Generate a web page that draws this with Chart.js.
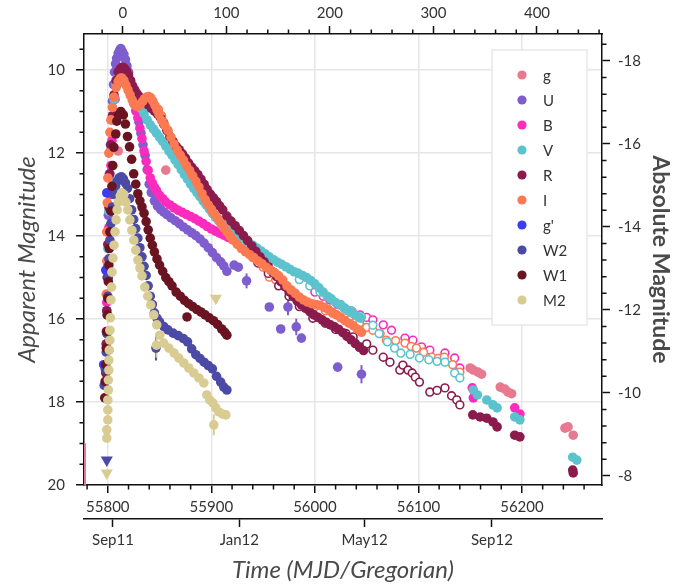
<!DOCTYPE html>
<html>
<head>
<meta charset="utf-8">
<script src="https://cdn.jsdelivr.net/npm/chart.js@4.4.0/dist/chart.umd.min.js"></script>
<style>
  html, body { margin: 0; padding: 0; background: #fff; }
  canvas { display: block; }
</style>
</head>
<body>
<canvas id="lc" width="680" height="586"></canvas>
<script>
// ---- light curve data (MJD, apparent magnitude) ----
const bandNames  = ['g', 'U', 'B', 'V', 'R', 'I', "g'", 'W2', 'W1', 'M2'];
const bandColors = ['#e8798e', '#7e5ecf', '#fb2cbd', '#5cc3ce', '#8a1b4c', '#fb7a52', '#3c3cf0', '#4b4aa6', '#6a1422', '#d9cc93'];

const gT   = [55778, 55810, 55856, 56150, 56153, 56157.5, 56161, 56179, 56183.5, 56186.5, 56190, 56241.5, 56244.5, 56249.5];
const gMag = [21.0, 11.95, 12.41, 17.18, 17.23, 17.28, 17.33, 17.64, 17.69, 17.76, 17.8, 18.63, 18.6, 18.8];
const gErr = [2.0, 0, 0, 0, 0, 0, 0, 0, 0, 0, 0, 0, 0, 0];

const uT   = [55799.5, 55800.5, 55801.5, 55802.5, 55803.5, 55804.5, 55805.5, 55806.5, 55807.5, 55808.5, 55810, 55811.5, 55812.6, 55814, 55815.5, 55817, 55818.5, 55820, 55822, 55824, 55826, 55828, 55830, 55832, 55834, 55836, 55838, 55840, 55842, 55845, 55848, 55851, 55854, 55857, 55861, 55865, 55869, 55873, 55877, 55881, 55885, 55889, 55893, 55897, 55901, 55905, 55909, 55912, 55915];
const uMag = [14.6, 13.5, 12.5, 11.8, 11.2, 10.75, 10.35, 10.05, 9.85, 9.72, 9.6, 9.52, 9.48, 9.55, 9.62, 9.75, 9.9, 10.05, 10.28, 10.5, 10.75, 11.0, 11.25, 11.52, 11.8, 12.05, 12.4, 12.75, 12.95, 13.15, 13.28, 13.36, 13.42, 13.48, 13.56, 13.63, 13.7, 13.78, 13.85, 13.92, 13.99, 14.07, 14.17, 14.28, 14.4, 14.52, 14.62, 14.72, 14.85];
const uLateT   = [55922, 55926, 55934, 55956, 55967, 55974, 55982, 55987, 56022, 56045];
const uLateMag = [14.7, 14.75, 15.08, 15.71, 16.24, 15.71, 16.19, 16.46, 17.16, 17.33];
const uLateErr = [0, 0, 0.18, 0, 0, 0.2, 0.2, 0, 0, 0.22];

const bT   = [55798.5, 55799, 55800, 55801, 55802, 55803, 55804, 55805.5, 55807, 55809, 55811, 55813, 55815, 55817, 55819, 55821, 55823, 55825, 55827, 55829, 55831, 55833, 55835, 55837, 55839, 55841, 55843, 55845, 55847, 55850, 55853, 55856, 55860, 55864, 55868, 55872, 55876, 55880, 55884, 55888, 55892, 55896, 55900, 55904, 55908, 55912, 55916, 55920, 55924];
const bMag = [16.3, 15.6, 14.7, 13.8, 13.0, 12.3, 11.7, 11.1, 10.7, 10.35, 10.15, 10.03, 9.98, 10.05, 10.2, 10.4, 10.6, 10.8, 10.98, 11.15, 11.4, 11.65, 11.95, 12.2, 12.42, 12.6, 12.72, 12.82, 12.9, 13.02, 13.1, 13.18, 13.25, 13.32, 13.38, 13.43, 13.48, 13.53, 13.58, 13.64, 13.7, 13.77, 13.83, 13.88, 13.93, 13.98, 14.03, 14.08, 14.13];
const bLateT   = [56152, 56153, 56193, 56198];
const bLateMag = [17.66, 17.9, 18.14, 18.29];

const vT   = [55798.5, 55799, 55799.5, 55800, 55801, 55802, 55803, 55804.5, 55806, 55808, 55810, 55812, 55814, 55816, 55818, 55820, 55823, 55826, 55829, 55832, 55835, 55838, 55841, 55844, 55847, 55850, 55853, 55856, 55859, 55862, 55865, 55868, 55871, 55874, 55877, 55880, 55883, 55886, 55889, 55892, 55895, 55898, 55901, 55904, 55907, 55910, 55913, 55916, 55920, 55924, 55928, 55932, 55936, 55940, 55944, 55948, 55952, 55956, 55960, 55964, 55968, 55972, 55976, 55980, 55984, 55988, 55992, 55996, 56000, 56004, 56008, 56012, 56016, 56020, 56024, 56028, 56032, 56036, 56040, 56044];
const vMag = [16.6, 15.8, 15.0, 14.3, 13.4, 12.6, 11.9, 11.2, 10.7, 10.35, 10.15, 10.05, 10.0, 10.02, 10.1, 10.2, 10.4, 10.6, 10.8, 10.93, 11.05, 11.2, 11.32, 11.42, 11.52, 11.62, 11.72, 11.83, 11.95, 12.05, 12.17, 12.28, 12.4, 12.52, 12.63, 12.75, 12.85, 12.95, 13.05, 13.15, 13.25, 13.35, 13.45, 13.55, 13.63, 13.7, 13.76, 13.82, 13.9, 13.97, 14.02, 14.08, 14.15, 14.22, 14.29, 14.36, 14.43, 14.5, 14.57, 14.63, 14.68, 14.74, 14.8, 14.86, 14.9, 14.95, 15.0, 15.07, 15.15, 15.25, 15.35, 15.45, 15.52, 15.6, 15.66, 15.73, 15.8, 15.85, 15.92, 15.98];
const vLateT   = [56153, 56157, 56166, 56172, 56176, 56193, 56198, 56249, 56253];
const vLateMag = [17.71, 17.83, 17.95, 18.07, 18.14, 18.36, 18.43, 19.33, 19.4];

const rT   = [55798, 55798.5, 55799, 55799.5, 55800, 55801, 55802, 55803, 55804.5, 55806, 55808, 55810, 55812, 55814, 55816, 55818, 55820, 55822, 55824, 55826, 55828, 55830, 55833, 55836, 55839, 55842, 55845, 55848, 55851, 55854, 55857, 55860, 55863, 55866, 55869, 55872, 55875, 55878, 55881, 55884, 55887, 55890, 55893, 55896, 55899, 55902, 55905, 55908, 55911, 55915, 55919, 55923, 55927, 55931, 55935, 55939, 55943, 55947, 55951, 55955, 55959, 55963, 55967, 55971, 55975, 55979, 55983, 55987, 55991, 55995, 55999, 56003, 56007, 56011, 56015, 56019, 56023, 56027, 56031, 56035, 56039, 56043, 56047];
const rMag = [17.3, 16.6, 15.8, 15.0, 14.2, 13.3, 12.5, 11.8, 11.1, 10.6, 10.25, 10.05, 9.97, 9.93, 9.95, 10.02, 10.12, 10.25, 10.38, 10.48, 10.56, 10.63, 10.7, 10.76, 10.84, 10.92, 10.99, 11.06, 11.15, 11.3, 11.45, 11.6, 11.72, 11.83, 11.92, 12.02, 12.12, 12.24, 12.34, 12.43, 12.52, 12.63, 12.75, 12.88, 12.99, 13.08, 13.17, 13.27, 13.37, 13.52, 13.64, 13.75, 13.87, 13.99, 14.11, 14.24, 14.37, 14.5, 14.62, 14.74, 14.86, 14.98, 15.1, 15.22, 15.34, 15.46, 15.57, 15.66, 15.74, 15.82, 15.9, 15.96, 16.02, 16.08, 16.14, 16.19, 16.25, 16.33, 16.42, 16.5, 16.59, 16.68, 16.76];
const rLateT   = [56152.5, 56159.5, 56166, 56172, 56176, 56193, 56198, 56249, 56249.5];
const rLateMag = [18.31, 18.36, 18.39, 18.48, 18.6, 18.8, 18.84, 19.64, 19.71];

const iT   = [55798.5, 55799, 55799, 55799.5, 55800, 55801, 55802, 55803, 55804.5, 55806, 55808, 55810, 55812, 55813.5, 55815.5, 55817.5, 55819.5, 55821.5, 55823.5, 55825.5, 55827.5, 55829.5, 55831.5, 55833.5, 55835.5, 55837.5, 55839.5, 55841.5, 55843.5, 55845.5, 55847.5, 55849.5, 55852, 55855, 55858, 55861, 55864, 55867, 55870, 55873, 55876, 55879, 55882, 55885, 55888, 55891, 55894, 55897, 55900, 55903, 55906, 55909, 55912, 55915, 55918, 55921, 55925, 55929, 55933, 55937, 55941, 55945, 55949, 55953, 55957, 55961, 55965, 55969, 55973, 55977, 55981, 55985, 55989, 55993, 55997, 56001, 56005, 56009, 56013, 56017, 56021, 56025, 56029, 56033, 56037, 56041, 56045];
const iMag = [15.4, 14.6, 13.9, 13.2, 12.6, 12.0, 11.5, 11.2, 10.9, 10.65, 10.42, 10.27, 10.2, 10.19, 10.25, 10.36, 10.48, 10.6, 10.72, 10.82, 10.87, 10.87, 10.82, 10.76, 10.69, 10.65, 10.64, 10.67, 10.75, 10.85, 10.96, 11.07, 11.22, 11.33, 11.45, 11.62, 11.78, 11.93, 12.05, 12.17, 12.3, 12.42, 12.55, 12.68, 12.82, 12.98, 13.12, 13.25, 13.36, 13.47, 13.57, 13.68, 13.8, 13.9, 14.0, 14.1, 14.2, 14.3, 14.38, 14.45, 14.52, 14.6, 14.67, 14.75, 14.82, 14.88, 14.96, 15.06, 15.2, 15.3, 15.38, 15.47, 15.54, 15.59, 15.63, 15.65, 15.67, 15.72, 15.77, 15.84, 15.9, 15.97, 16.04, 16.1, 16.16, 16.24, 16.32];

const gpT   = [55796, 55798, 55799];
const gpMag = [17.1, 14.82, 12.96];

const w2T   = [55796.5, 55797.5, 55798.5, 55799, 55799.5, 55800, 55800.5, 55801, 55802, 55803, 55804.5, 55806, 55807.5, 55809, 55811, 55813, 55815, 55817, 55819, 55821, 55823, 55825, 55827, 55829, 55831, 55833, 55835, 55837, 55839, 55841, 55843, 55845, 55847.5, 55850, 55854, 55858, 55863, 55868, 55873, 55877, 55881, 55885, 55889, 55893, 55897, 55901, 55905, 55909, 55912, 55915];
const w2Mag = [17.6, 17.2, 16.8, 16.35, 15.9, 15.45, 15.0, 14.55, 14.1, 13.7, 13.3, 13.0, 12.8, 12.68, 12.6, 12.57, 12.62, 12.72, 12.85, 13.1, 13.37, 13.6, 13.82, 14.05, 14.28, 14.5, 14.73, 14.95, 15.2, 15.45, 15.65, 15.85, 15.98, 16.07, 16.18, 16.26, 16.34, 16.4, 16.47, 16.55, 16.72, 16.86, 16.95, 17.04, 17.12, 17.2, 17.38, 17.52, 17.64, 17.71];
const w2OddT   = [55846.5];
const w2OddMag = [16.7];
const w2OddErr = [0.3];

const w1T   = [55797, 55797.5, 55798, 55798.5, 55799, 55799.5, 55800, 55800.5, 55801, 55801.5, 55802, 55803, 55804, 55804.8, 55805.8, 55807.7, 55808.7, 55810.5, 55812.6, 55815, 55817, 55819, 55821, 55823, 55825, 55827, 55829, 55831, 55833, 55835, 55837, 55839, 55841, 55843, 55845, 55847.5, 55850, 55853, 55856, 55859, 55862, 55866, 55870, 55874, 55878, 55882, 55886, 55890, 55894, 55898, 55902, 55906, 55910, 55913, 55915, 55876.5];
const w1Mag = [17.9, 17.5, 17.1, 16.7, 16.3, 15.9, 15.5, 15.1, 14.7, 14.3, 13.9, 13.4, 12.8, 12.3, 11.86, 11.54, 11.23, 11.08, 11.0, 11.08, 11.3, 11.6, 11.85, 12.15, 12.5, 12.75, 12.98, 13.15, 13.3, 13.45, 13.65, 13.85, 14.05, 14.22, 14.38, 14.55, 14.7, 14.85, 15.0, 15.1, 15.2, 15.35, 15.45, 15.55, 15.63, 15.7, 15.77, 15.83, 15.9, 15.97, 16.04, 16.13, 16.24, 16.32, 16.39, 15.95];

const m2T   = [55799, 55799, 55800, 55800, 55800, 55800.5, 55800.5, 55801, 55801, 55801.5, 55802, 55802, 55802.5, 55803, 55803.5, 55804, 55805, 55806, 55807, 55808, 55809, 55810, 55812, 55813.5, 55815.5, 55817.4, 55819.3, 55821.3, 55823.2, 55825.1, 55827, 55829, 55831, 55833, 55835.7, 55838.6, 55841.5, 55844.4, 55847.3, 55850.2, 55854, 55859, 55864, 55868.6, 55873.4, 55878.2, 55883, 55888, 55892.7, 55895.6, 55898.5, 55901.4, 55904.3, 55907.2, 55911, 55914];
const m2Mag = [18.87, 18.67, 18.43, 18.19, 17.95, 17.71, 17.47, 17.23, 16.99, 16.75, 16.51, 16.27, 15.97, 15.54, 15.23, 14.87, 14.53, 14.22, 13.9, 13.61, 13.37, 13.18, 13.03, 12.96, 13.0, 13.18, 13.37, 13.61, 13.86, 14.1, 14.34, 14.58, 14.77, 14.96, 15.23, 15.45, 15.66, 15.9, 16.14, 16.39, 16.58, 16.7, 16.82, 16.94, 17.06, 17.18, 17.3, 17.42, 17.54, 17.83, 17.95, 18.02, 18.14, 18.24, 18.29, 18.31];
const m2OddT   = [55902.4, 55847];
const m2OddMag = [18.55, 16.63];
const m2OddErr = [0.25, 0.3];

// upper limits (triangles)
const ulW2T = [55799];
const ulW2Mag = [19.4];
const ulM2T = [55799, 55904.3];
const ulM2Mag = [19.71, 15.5];

// second photometry source (open circles)
const openIT   = [55836, 55840, 55844, 55849, 55852, 55854, 55858, 55862, 55866, 55870, 55874, 55878, 55884, 55890, 55896, 55902, 55908, 55914, 55920, 55930, 55940, 55950, 55956, 55962, 55970, 55980, 55992, 56000, 56010, 56017, 56025, 56033, 56043, 56050, 56056, 56063, 56069, 56078, 56087, 56093, 56098, 56105, 56113, 56119, 56125, 56133, 56140];
const openIMag = [10.72, 10.68, 10.82, 10.95, 11.1, 11.25, 11.48, 11.68, 11.9, 12.08, 12.25, 12.42, 12.65, 12.95, 13.2, 13.45, 13.65, 13.85, 14.05, 14.3, 14.52, 14.75, 14.99, 15.05, 15.2, 15.38, 15.61, 15.7, 15.8, 15.86, 15.95, 16.02, 16.1, 16.2, 16.27, 16.35, 16.51, 16.52, 16.58, 16.66, 16.7, 16.8, 16.92, 16.95, 16.92, 17.1, 17.28];
const openRT   = [55945, 55955, 55965, 55975, 55985, 55998, 56010, 56020, 56030, 56037, 56043.5, 56050, 56056, 56066, 56072.5, 56082, 56085, 56090, 56094, 56097, 56101, 56111, 56118, 56125.6, 56132, 56137, 56140];
const openRMag = [14.65, 14.9, 15.2, 15.45, 15.7, 15.98, 16.1, 16.25, 16.35, 16.43, 16.67, 16.6, 16.75, 16.92, 17.04, 17.23, 17.11, 17.23, 17.3, 17.4, 17.52, 17.76, 17.72, 17.66, 17.85, 17.95, 18.07];
const openVT   = [55985, 55995, 56005, 56015, 56025, 56035, 56045, 56056, 56062, 56070, 56077, 56083, 56092, 56101, 56110, 56118, 56125.6, 56135, 56140];
const openVMag = [15.05, 15.2, 15.35, 15.5, 15.65, 15.8, 15.95, 16.15, 16.35, 16.55, 16.7, 16.82, 16.85, 16.94, 16.98, 17.02, 17.04, 17.3, 17.42];
const openBT   = [56000, 56008, 56014.5, 56022, 56029, 56036, 56043.5, 56050, 56056, 56066, 56074, 56087, 56094.7, 56103, 56111, 56125.6, 56135, 56140];
const openBMag = [15.35, 15.45, 15.54, 15.65, 15.74, 15.82, 15.9, 15.96, 16.02, 16.14, 16.27, 16.46, 16.51, 16.67, 16.75, 16.82, 16.94, 17.18];

// axes
const mjdTicks   = [55800, 55900, 56000, 56100, 56200];
const dayTicks   = [0, 100, 200, 300, 400];
const dateMjd    = [55805, 55927, 56048, 56171];
const dateLabels = ['Sep11', 'Jan12', 'May12', 'Sep12'];
const peakMjd = 55814.5;   // top axis: days from maximum
const distMod = 27.78;     // apparent -> absolute offset
const xMin = 55777, xMax = 56277.3;
const magTop = 9.13, magBottom = 20;

const toPts = (t, m) => t.map((v, i) => ({ x: v, y: m[i] }));
const zeros = a => a.map(() => 0);

const filledSets = [
  { t: gT, m: gMag, err: gErr },
  { t: uT.concat(uLateT), m: uMag.concat(uLateMag), err: zeros(uT).concat(uLateErr) },
  { t: bT.concat(bLateT), m: bMag.concat(bLateMag) },
  { t: vT.concat(vLateT), m: vMag.concat(vLateMag) },
  { t: rT.concat(rLateT), m: rMag.concat(rLateMag) },
  { t: iT, m: iMag },
  { t: gpT, m: gpMag },
  { t: w2T.concat(w2OddT), m: w2Mag.concat(w2OddMag), err: zeros(w2T).concat(w2OddErr) },
  { t: w1T, m: w1Mag },
  { t: m2T.concat(m2OddT), m: m2Mag.concat(m2OddMag), err: zeros(m2T).concat(m2OddErr) }
];

const datasets = filledSets.map((s, i) => ({
  label: bandNames[i],
  data: toPts(s.t, s.m),
  errors: s.err,
  backgroundColor: bandColors[i],
  pointRadius: 4.8,
  pointBorderWidth: 0,
  order: 20 - i
}));

// open circles sit underneath the filled bands
function openSet(t, m, color) {
  return {
    data: toPts(t, m), pointRadius: 3.9, pointBorderWidth: 1.6,
    pointBackgroundColor: '#fff', pointBorderColor: color, order: 30
  };
}
datasets.push(openSet(openRT, openRMag, bandColors[4]));
datasets.push(openSet(openVT, openVMag, bandColors[3]));
datasets.push(openSet(openIT, openIMag, bandColors[5]));
datasets.push(openSet(openBT, openBMag, bandColors[2]));

datasets.push({ data: toPts(ulW2T, ulW2Mag), pointStyle: 'triangle', rotation: 180, pointRadius: 7, backgroundColor: bandColors[7], pointBorderWidth: 0, order: 0 });
datasets.push({ data: toPts(ulM2T, ulM2Mag), pointStyle: 'triangle', rotation: 180, pointRadius: 7, backgroundColor: bandColors[9], pointBorderWidth: 0, order: 0 });

// vertical error bars, drawn under the markers
const errorBars = {
  id: 'errorBars',
  beforeDatasetsDraw(chart) {
    const { ctx, chartArea: a, scales: { x, y } } = chart;
    ctx.save();
    ctx.beginPath();
    ctx.rect(a.left, a.top, a.right - a.left, a.bottom - a.top);
    ctx.clip();
    ctx.lineWidth = 2;
    chart.data.datasets.forEach(ds => {
      if (!ds.errors) return;
      ctx.strokeStyle = ds.backgroundColor;
      ds.data.forEach((p, i) => {
        const e = ds.errors[i];
        if (!e) return;
        const px = x.getPixelForValue(p.x);
        ctx.beginPath();
        ctx.moveTo(px, y.getPixelForValue(p.y - e));
        ctx.lineTo(px, y.getPixelForValue(p.y + e));
        ctx.stroke();
      });
    });
    ctx.restore();
  }
};

// minor tick marks on the four frame axes
const minorTicks = {
  id: 'minorTicks',
  afterDraw(chart) {
    const { ctx, chartArea: a, scales } = chart;
    ctx.save();
    ctx.strokeStyle = '#111';
    ctx.lineWidth = 1.5;
    ctx.beginPath();
    for (let v = 55780; v < xMax; v += 20) {
      if (v % 100 === 0) continue;
      const px = scales.x.getPixelForValue(v);
      ctx.moveTo(px, a.bottom); ctx.lineTo(px, a.bottom + 4.5);
    }
    for (let k = -1; k * 20 < xMax - peakMjd; k++) {
      if (k % 5 === 0) continue;
      const px = scales.xTop.getPixelForValue(k * 20);
      ctx.moveTo(px, a.top); ctx.lineTo(px, a.top - 4.5);
    }
    for (let k = 19; k < 40; k++) {
      if (k % 4 === 0) continue;
      const py = scales.y.getPixelForValue(k * 0.5);
      ctx.moveTo(a.left, py); ctx.lineTo(a.left - 4.5, py);
    }
    for (let k = -46; k <= -20; k++) {
      if (k % 5 === 0) continue;
      const py = scales.yAbs.getPixelForValue(k * 0.4);
      ctx.moveTo(a.right, py); ctx.lineTo(a.right + 4.5, py);
    }
    ctx.stroke();
    ctx.restore();
  }
};

// legend box inside the plot, upper right
const bandLegend = {
  id: 'bandLegend',
  afterDraw(chart) {
    const { ctx, chartArea: a } = chart;
    const left = a.right - 110, top = a.top + 16, w = 95, h = 275;
    ctx.save();
    ctx.fillStyle = '#fff';
    ctx.fillRect(left, top, w, h);
    ctx.strokeStyle = '#e8e8e8';
    ctx.lineWidth = 1.5;
    ctx.strokeRect(left, top, w, h);
    ctx.font = '15px Lato';
    ctx.textBaseline = 'middle';
    bandNames.forEach((name, i) => {
      const cy = top + 25 + i * 25;
      ctx.fillStyle = bandColors[i];
      ctx.beginPath();
      ctx.arc(left + 30, cy, 4.6, 0, Math.PI * 2);
      ctx.fill();
      ctx.fillStyle = '#333';
      ctx.fillText(name, left + 51, cy + 1);
    });
    ctx.restore();
  }
};

const tickFont = { family: 'Lato', size: 15 };
const tickColor = '#333';
const frame = { color: '#111', width: 1.5 };
const titleFont = { family: 'Lato', size: 24, style: 'italic' };

new Chart(document.getElementById('lc'), {
  type: 'scatter',
  data: { datasets },
  options: {
    responsive: false,
    animation: false,
    events: [],
    layout: { padding: 0 },
    plugins: { legend: { display: false }, tooltip: { enabled: false } },
    scales: {
      x: {
        type: 'linear', position: 'bottom', weight: 0, min: xMin, max: xMax,
        afterFit: s => { s.height = 34; s.paddingLeft = 0; s.paddingRight = 0; },
        afterBuildTicks: s => { s.ticks = mjdTicks.map(v => ({ value: v })); },
        ticks: { maxRotation: 0, autoSkip: false, padding: 5, color: tickColor, font: tickFont, callback: v => String(v) },
        grid: { color: '#e6e6e6', lineWidth: 1.5, tickColor: '#111', tickLength: 8, tickWidth: 1.5 },
        border: frame
      },
      xDate: {
        type: 'linear', position: 'bottom', weight: 1, min: xMin, max: xMax,
        afterFit: s => { s.height = 67; s.paddingLeft = 0; s.paddingRight = 0; },
        afterBuildTicks: s => { s.ticks = dateMjd.map(v => ({ value: v })); },
        ticks: { maxRotation: 0, autoSkip: false, padding: 4, color: tickColor, font: tickFont, callback: (v, i) => dateLabels[i] },
        grid: { drawOnChartArea: false, tickColor: '#111', tickLength: 8, tickWidth: 1.5 },
        border: frame,
        title: { display: true, text: 'Time (MJD/Gregorian)', color: '#4a4a4a', font: titleFont, padding: { top: 0, bottom: 1 } }
      },
      xTop: {
        type: 'linear', position: 'top', min: xMin - peakMjd, max: xMax - peakMjd,
        afterFit: s => { s.height = 34; s.paddingLeft = 0; s.paddingRight = 0; },
        afterBuildTicks: s => { s.ticks = dayTicks.map(v => ({ value: v })); },
        ticks: { maxRotation: 0, autoSkip: false, padding: 4, color: tickColor, font: tickFont, callback: v => String(v) },
        grid: { drawOnChartArea: false, tickColor: '#111', tickLength: 8, tickWidth: 1.5 },
        border: frame
      },
      y: {
        type: 'linear', position: 'left', reverse: true, min: magTop, max: magBottom,
        afterFit: s => { s.width = 84; s.paddingTop = 0; s.paddingBottom = 0; },
        ticks: { stepSize: 2, includeBounds: false, padding: 11, color: tickColor, font: tickFont, callback: v => String(v) },
        grid: { color: '#e6e6e6', lineWidth: 1.5, tickColor: '#111', tickLength: 8, tickWidth: 1.5 },
        border: frame,
        title: { display: true, text: 'Apparent Magnitude', color: '#4a4a4a', font: titleFont, padding: { top: 13, bottom: 0 } }
      },
      yAbs: {
        type: 'linear', position: 'right', reverse: true, min: magTop - distMod, max: magBottom - distMod,
        afterFit: s => { s.width = 78; s.paddingTop = 0; s.paddingBottom = 0; },
        ticks: { stepSize: 2, includeBounds: false, padding: 8, color: tickColor, font: tickFont, callback: v => String(v) },
        grid: { drawOnChartArea: false, tickColor: '#111', tickLength: 8, tickWidth: 1.5 },
        border: frame,
        title: { display: true, text: 'Absolute Magnitude', color: '#4a4a4a', font: { family: 'Lato', size: 23, weight: 'bold' }, padding: { top: 6, bottom: 0 } }
      }
    }
  },
  plugins: [errorBars, minorTicks, bandLegend]
});
</script>
</body>
</html>
